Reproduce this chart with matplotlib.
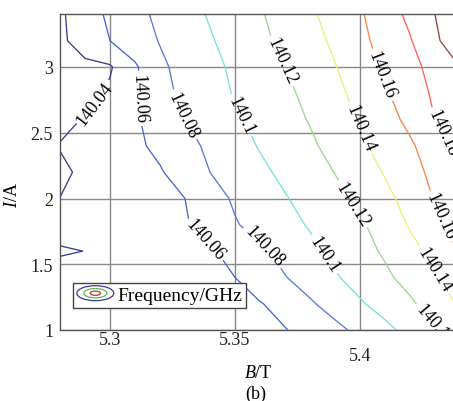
import numpy as np
import matplotlib
matplotlib.use("Agg")
import matplotlib.pyplot as plt
from matplotlib.legend_handler import HandlerBase
from matplotlib.patches import Ellipse
from matplotlib.lines import Line2D

plt.rcParams['font.family'] = ['Liberation Serif', 'DejaVu Serif']
plt.rcParams['mathtext.fontset'] = 'custom'
plt.rcParams['mathtext.rm'] = 'Liberation Serif'
plt.rcParams['mathtext.it'] = 'Liberation Serif:italic'

# magnetic field grid (T) and current grid (A)
field_T = [5.28, 5.29, 5.30, 5.31, 5.32, 5.33, 5.34, 5.35, 5.36,
           5.37, 5.38, 5.39, 5.40, 5.41, 5.42, 5.43, 5.44]
current_A = [1.0, 1.2, 1.4, 1.6, 1.8, 2.0, 2.2, 2.4, 2.6, 2.8, 3.0, 3.2, 3.4]

# frequency above 140 GHz, in MHz (rows = current, cols = field)
freq_offset_mhz = [
    [46, 47.5, 49, 50.4, 51.9, 53.4, 54.9, 56.3, 57.8, 59.3, 65.1, 74.9, 84.9, 95.1, 106, 117.7, 133.3],
    [45, 46.8, 48.5, 50.3, 52.1, 53.8, 55.6, 57.3, 59.1, 65.7, 77.6, 88, 98, 107.5, 117, 129.2, 142.7],
    [44, 46.3, 48.6, 50.9, 53.1, 55.4, 57.7, 60, 69.6, 79.2, 88.7, 98.1, 107.3, 116.4, 126.7, 137.8, 148.9],
    [39, 40.1, 43.7, 47.3, 50.9, 54.5, 58.1, 65.3, 76.4, 86.3, 95.6, 104.6, 113.3, 122.6, 133.5, 146.2, 161.5],
    [44, 46.9, 49.8, 52.8, 55.7, 58.6, 66.3, 78.5, 86.6, 94, 101.6, 109.5, 117.5, 127.6, 141.9, 153.8, 169.4],
    [40.1, 44.1, 48.1, 52, 56, 60, 71.9, 82.6, 90.6, 98.7, 106.9, 115.1, 124.3, 134.9, 147.2, 161.1, 175],
    [38, 42, 47.5, 53, 58.5, 68.4, 80, 88.1, 96.1, 104.2, 112.3, 120.4, 130.8, 141.4, 152.7, 165.3, 180],
    [40.5, 45.9, 51.3, 56.7, 64, 74, 83.6, 92.5, 101.3, 109.1, 116.9, 126.3, 136.7, 146.9, 157.1, 170.9, 186],
    [37.2, 40.7, 49.7, 57.7, 68.4, 80, 88.6, 97.2, 105.3, 113.1, 121.2, 131.2, 141.3, 152.4, 164.8, 180, 195],
    [30, 32, 43.2, 57.2, 73.3, 84.9, 93.1, 101.2, 108.7, 116.1, 124.9, 135.1, 146, 157.7, 170.3, 183.1, 195.9],
    [34, 36, 38, 57.4, 76.3, 86.7, 95, 103.3, 111.7, 120, 129.6, 139.2, 151.2, 163.1, 174.2, 186.5, 200],
    [36.5, 48.2, 60, 70.6, 81, 89.7, 98.3, 107, 115.8, 124.6, 133.6, 143.3, 155.2, 167, 178.6, 196.3, 214.5],
    [37, 50.8, 63.5, 74.3, 84.2, 93, 101.7, 110, 118.3, 127.5, 137, 147.2, 157.9, 170.5, 184.4, 200, 215.6],
]

levels = [140.04, 140.06, 140.08, 140.10, 140.12, 140.14, 140.16, 140.18, 140.20]
level_colors = ['#3c3c8e', '#4a66cc', '#5a7ad6', '#7edede', '#9cd88c',
                '#eeee7a', '#ff8444', '#ff6452', '#904444']

# where the inline labels sit (B, I)
label_spots = [(5.2912, 2.76), (5.3108, 2.76), (5.330, 2.64), (5.352, 2.63),
               (5.3692, 3.05), (5.3968, 2.51), (5.4064, 2.92), (5.432, 2.49),
               (5.3392, 1.71), (5.3608, 1.62), (5.3868, 1.59), (5.3972, 1.96),
               (5.4288, 1.45), (5.4308, 1.05), (5.4328, 1.87)]


class ContourIcon(HandlerBase):
    def create_artists(self, legend, orig_handle, xdescent, ydescent,
                       width, height, fontsize, trans):
        cx = width / 2 - xdescent
        cy = height / 2 - ydescent
        arts = []
        for s, c in [(1.0, '#3c3c8e'), (0.62, '#5cb85c'), (0.28, '#c0392b')]:
            e = Ellipse((cx, cy), width * s, height * 1.1 * s, fill=False,
                        edgecolor=c, lw=0.9, transform=trans)
            arts.append(e)
        return arts


B, I = np.meshgrid(field_T, current_A)
Z = 140 + np.array(freq_offset_mhz) / 1000

fig = plt.figure(figsize=(4.53, 4.02), dpi=100)
ax = fig.add_axes([60 / 453, 71 / 402, 400 / 453, 315.6 / 402])

cs = ax.contour(B, I, Z, levels=levels, colors=level_colors, linewidths=0.95)
ax.clabel(cs, fmt=lambda v: f'{v:g}', fontsize=13, colors='k',
          inline=True, inline_spacing=3, manual=label_spots)

ax.set_xlim(5.28, 5.44)
ax.set_ylim(1, 3.4)
ax.set_xticks([5.3, 5.35, 5.4])
ax.set_xticklabels(['5.3', '5.35', '5.4'])
ax.set_yticks([1, 1.5, 2, 2.5, 3])
ax.set_yticklabels(['1', '1.5', '2', '2.5', '3'])
ax.tick_params(length=0, labelsize=13, colors='#222222')
ax.tick_params(axis='x', pad=1)
ax.tick_params(axis='y', pad=5)
ax.xaxis.get_major_ticks()[2].set_pad(12)

ax.grid(True, color='#888888', lw=1.0)
ax.set_axisbelow(True)
for sp in ax.spines.values():
    sp.set_color('#555555')
    sp.set_linewidth(1.0)

ax.set_xlabel(r'$B$/T', fontsize=13)
ax.xaxis.set_label_coords(0.495, -0.108)
ax.set_ylabel(r'$I$/A', fontsize=13)
ax.yaxis.set_label_coords(-0.098, 0.43)

proxy = Line2D([], [])
leg = ax.legend(handles=[proxy], labels=['Frequency/GHz'],
                handler_map={proxy: ContourIcon()},
                loc='lower left', bbox_to_anchor=(0.0325, 0.07),
                borderaxespad=0, fancybox=False, framealpha=1,
                edgecolor='#444444', fontsize=14, handlelength=1.9,
                handletextpad=0.2, borderpad=0.2)
leg.get_frame().set_linewidth(1.0)

fig.text(256 / 453, 8 / 402, '(b)', ha='center', va='center', fontsize=13)

fig.savefig('out.png', dpi=100)
